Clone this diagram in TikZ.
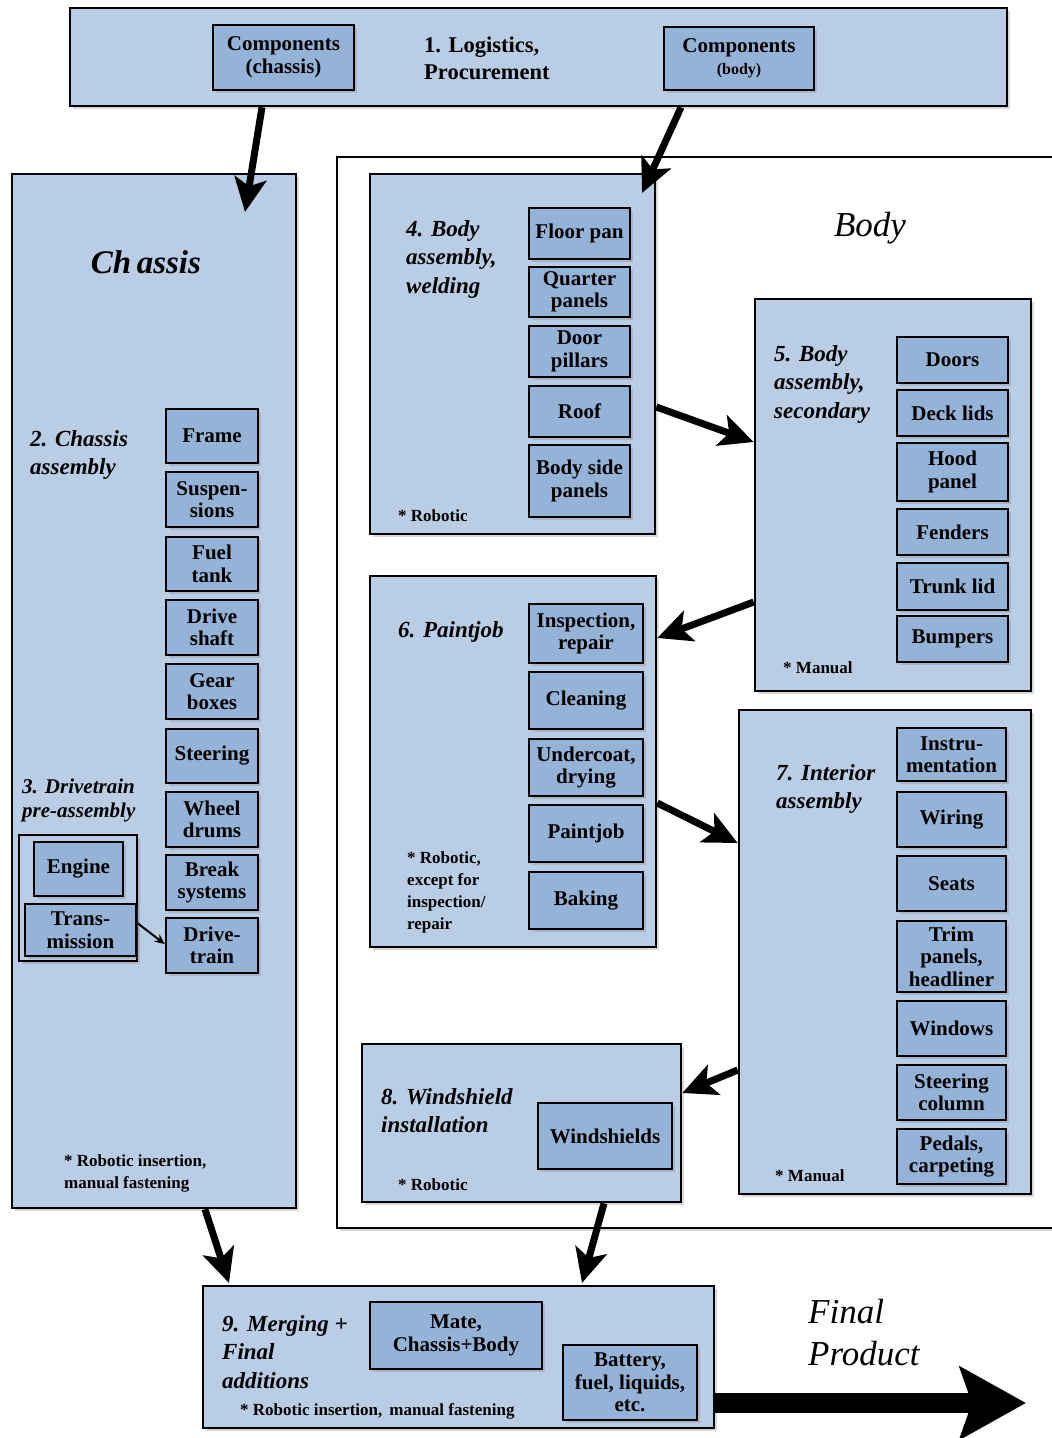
\documentclass[tikz,border=0pt]{standalone}
\usepackage{fontspec}
\setmainfont{Liberation Serif}
\usetikzlibrary{arrows.meta,shadows,calc}
\definecolor{lb}{HTML}{B9CDE5}
\definecolor{db}{HTML}{95B3D7}
\newcommand\partfont{\fontsize{21}{22.5}\selectfont\bfseries}
\newcommand\labfont{\fontsize{23}{28.5}\selectfont\bfseries\itshape}
\newcommand\notefont{\fontsize{17}{22}\selectfont\bfseries}
\newcommand\bx[7]{%
  \pgfmathsetmacro\bxw{#5-#3}\pgfmathsetmacro\bxh{#6-#4}%
  \node[#1, minimum width=\bxw pt, minimum height=\bxh pt] (#2) at ({(#3+#5)/2},{(#4+#6)/2}) {#7};}
\tikzset{
  shad/.style={drop shadow={shadow xshift=3pt,shadow yshift=-3pt,opacity=0.3}},
  panel/.style={draw=black, line width=2.6pt, fill=lb, shad, inner sep=0pt},
  part/.style={draw=black, line width=2.6pt, fill=db, align=center, inner sep=0pt, font=\partfont, shad},
  lab/.style={anchor=north west, inner sep=0pt, align=left, font=\labfont},
  note/.style={anchor=north west, inner sep=0pt, align=left, font=\notefont},
  big/.style={inner sep=0pt, align=left, font=\fontsize{35}{42}\selectfont\itshape},
  flow/.style={line width=7pt, -{Stealth[length=34pt,width=32pt,inset=8pt]}},
}
\begin{document}
\begin{tikzpicture}[x=1pt,y=-1pt]
\clip (0,0) rectangle (1052,1438);
\fill[white] (0,0) rectangle (1052,1438);

% ---- 1. Logistics
\bx{panel}{top}{70}{8}{1007}{106}{}
\bx{part}{cch}{213}{25}{354}{90}{Components\\(chassis)}
\bx{part}{cbo}{664}{27}{814}{90}{Components\\{\fontsize{16}{22}\selectfont (body)}}
\node[anchor=north west, inner sep=0pt, align=left, font=\fontsize{22.5}{27}\selectfont\bfseries] (l1) at (424,37) {1. Logistics,\\Procurement};

% ---- Body area
\bx{draw=black, line width=2.6pt, fill=white, shad}{bodyarea}{337}{157}{1070}{1228}{}
\node[big] (tbody) at (870,228) {Body};

% ---- Chassis
\bx{panel}{chassis}{12}{174}{296}{1208}{}
\node[big, font=\fontsize{33}{42}\selectfont\bfseries\itshape] (tchassis) at (146,262) {Ch\,assis};
\node[lab] (l2) at (30,430) {2. Chassis\\assembly};
\bx{part}{frame}{166}{409}{258}{463}{Frame}
\bx{part}{susp}{166}{472}{258}{527}{Suspen-\\sions}
\bx{part}{fuel}{166}{537}{258}{591}{Fuel\\tank}
\bx{part}{shaft}{166}{600}{258}{655}{Drive\\shaft}
\bx{part}{gear}{166}{664}{258}{719}{Gear\\boxes}
\bx{part}{steer}{166}{729}{258}{783}{Steering}
\bx{part}{wheel}{166}{792}{258}{847}{Wheel\\drums}
\bx{part}{brake}{166}{855}{258}{910}{Break\\systems}
\bx{part}{dtrain}{166}{918}{258}{973}{Drive-\\train}
\node[lab, font=\fontsize{21}{24}\selectfont\bfseries\itshape] (l3) at (22,779) {3. Drivetrain\\pre-assembly};
\bx{draw=black, line width=2pt, fill=lb, shad}{dgroup}{19}{835}{137}{961}{}
\bx{part}{engine}{34}{842}{123}{896}{Engine}
\bx{part}{trans}{25}{904}{136}{956}{Trans-\\mission}
\node[note] (n2) at (64,1154) {* Robotic insertion,\\manual fastening};

% ---- 4
\bx{panel}{b4}{370}{174}{655}{534}{}
\node[lab] (l4) at (406,220) {4. Body\\assembly,\\welding};
\bx{part}{floor}{529}{208}{630}{259}{Floor pan}
\bx{part}{quarter}{529}{267}{630}{317}{Quarter\\panels}
\bx{part}{pillar}{529}{326}{630}{377}{Door\\pillars}
\bx{part}{roof}{529}{386}{630}{437}{Roof}
\bx{part}{side}{529}{445}{630}{517}{Body side\\panels}
\node[note] (n4) at (398,509) {* Robotic};

% ---- 5
\bx{panel}{b5}{755}{299}{1031}{691}{}
\node[lab] (l5) at (774,345) {5. Body\\assembly,\\secondary};
\bx{part}{doors}{897}{337}{1008}{383}{Doors}
\bx{part}{deck}{897}{390}{1008}{436}{Deck lids}
\bx{part}{hood}{897}{443}{1008}{501}{Hood\\panel}
\bx{part}{fender}{897}{509}{1008}{555}{Fenders}
\bx{part}{trunk}{897}{563}{1008}{610}{Trunk lid}
\bx{part}{bumper}{897}{616}{1008}{662}{Bumpers}
\node[note] (n5) at (783,661) {* Manual};

% ---- 6
\bx{panel}{b6}{370}{576}{656}{947}{}
\node[lab] (l6) at (398,621) {6. Paintjob};
\bx{part}{insp}{529}{604}{643}{663}{Inspection,\\repair}
\bx{part}{clean}{529}{672}{643}{729}{Cleaning}
\bx{part}{under}{529}{739}{643}{796}{Undercoat,\\drying}
\bx{part}{paint}{529}{805}{643}{862}{Paintjob}
\bx{part}{bake}{529}{872}{643}{929}{Baking}
\node[note] (n6) at (407,851) {* Robotic,\\except for\\inspection/\\repair};

% ---- 7
\bx{panel}{b7}{739}{710}{1031}{1194}{}
\node[lab] (l7) at (776,764) {7. Interior\\assembly};
\bx{part}{instr}{897}{728}{1006}{781}{Instru-\\mentation}
\bx{part}{wiring}{897}{792}{1006}{847}{Wiring}
\bx{part}{seats}{897}{856}{1006}{911}{Seats}
\bx{part}{trim}{897}{921}{1006}{992}{Trim\\panels,\\headliner}
\bx{part}{windows}{897}{1001}{1006}{1056}{Windows}
\bx{part}{scol}{897}{1065}{1006}{1120}{Steering\\column}
\bx{part}{pedal}{897}{1129}{1006}{1184}{Pedals,\\carpeting}
\node[note] (n7) at (775,1169) {* Manual};

% ---- 8
\bx{panel}{b8}{362}{1044}{681}{1202}{}
\node[lab] (l8) at (381,1088) {8. Windshield\\installation};
\bx{part}{wshield}{538}{1103}{672}{1169}{Windshields}
\node[note] (n8) at (398,1178) {* Robotic};

% ---- 9
\bx{panel}{b9}{203}{1286}{714}{1428}{}
\node[lab] (l9) at (222,1315) {9. Merging +\\Final\\additions};
\bx{part}{mate}{370}{1302}{542}{1369}{Mate,\\Chassis+Body}
\bx{part}{batt}{563}{1345}{697}{1420}{Battery,\\fuel, liquids,\\etc.}
\node[note] (n9) at (240,1403) {* Robotic insertion,\, manual fastening};
\node[big, anchor=north west] (tfinal) at (808,1299) {Final\\Product};

% ---- connectors
\coordinate (e1) at (245,212);
\coordinate (e2) at (642,193);
\coordinate (e7) at (229,1283);
\coordinate (e8) at (582,1283);
\coordinate (fin) at (1026,1403);
\draw[flow] (top.south -| 262,0) -- (e1);
\draw[flow] (top.south -| 681,0) -- (e2);
\draw[flow] (b4.east |- 0,407) -- (b5.west |- 0,442);
\draw[flow] (b5.west |- 0,602) -- (b6.east |- 0,638);
\draw[flow] (b6.east |- 0,803) -- (b7.west |- 0,843);
\draw[flow] (b7.west |- 0,1070) -- (b8.east |- 0,1093);
\draw[flow] (chassis.south -| 205,0) -- (e7);
\draw[flow] (b8.south -| 604,0) -- (e8);
\draw[line width=20pt, -{Stealth[length=66pt,width=72pt,inset=12pt]}] (b9.east |- 0,1403) -- (fin);
\draw[line width=2pt, -{Stealth[length=10pt,width=9pt]}] (trans.east |- 0,923) -- (dtrain.west |- 0,944);
\end{tikzpicture}
\end{document}
